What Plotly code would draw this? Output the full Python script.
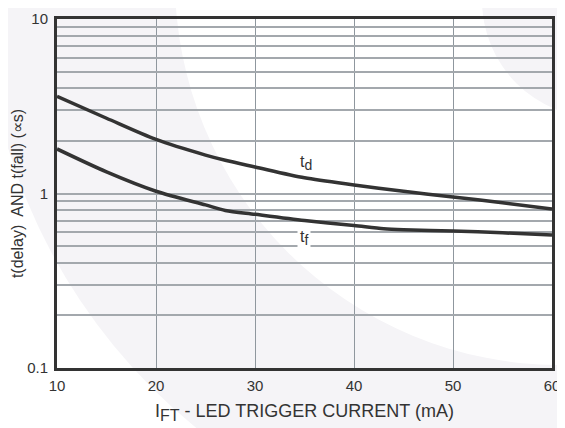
import math
import plotly.graph_objects as go

current_ma = [10, 15, 20, 25, 27, 30, 35, 40, 45, 50, 55, 60]
t_delay = [3.6, 2.7, 2.04, 1.66, 1.55, 1.42, 1.23, 1.12, 1.03, 0.955, 0.885, 0.815]
current_f = [10, 15, 20, 25, 27, 30, 35, 40, 43, 45, 50, 55, 60]
t_fall = [1.80, 1.33, 1.03, 0.86, 0.80, 0.76, 0.70, 0.655, 0.628, 0.62, 0.61, 0.595, 0.578]

x_ticks = [10, 20, 30, 40, 50, 60]
y_grid = [0.1, 0.2, 0.3, 0.4, 0.5, 0.6, 0.7, 0.8, 0.9,
          1, 2, 3, 4, 5, 6, 7, 8, 9, 10]
y_labels = {0.1: "0.1", 1: "1", 10: "10"}

# page body has an 8px margin: the figure starts at (8, 8) in the window
OFF = 8
W, H = 565 - OFF, 428 - OFF
L, T = 57 - OFF, 19 - OFF
PX1, PY1 = 552 - OFF, 368 - OFF
R, B = W - PX1, H - PY1
PW, PH = PX1 - L, PY1 - T

def circle(cx, cy, r, color):
    cx, cy = cx - OFF, cy - OFF
    return dict(type="circle", xref="paper", yref="paper", layer="below",
                x0=(cx - r - L) / PW, x1=(cx + r - L) / PW,
                y0=(PY1 - (cy + r)) / PH, y1=(PY1 - (cy - r)) / PH,
                fillcolor=color, line=dict(width=0))

GRAY = "#f5f4f7"
shapes = [circle(560, -20, 577, GRAY), circle(560, -20, 385, "white"),
          circle(600, 0, 118, GRAY)]

fig = go.Figure()
line = dict(color="#333333", width=3.5, shape="spline", smoothing=0.8)
fig.add_trace(go.Scatter(x=current_ma, y=t_delay, mode="lines", line=line, hoverinfo="skip"))
fig.add_trace(go.Scatter(x=current_f, y=t_fall, mode="lines", line=line, hoverinfo="skip"))

font = "Liberation Sans, Arial, sans-serif"
fig.add_annotation(x=35.2, y=math.log10(1.5), xref="x", yref="y",
                   text="t<sub><span style='font-size:14px'>d</span></sub>",
                   showarrow=False, font=dict(size=16, color="#333333", family=font))
fig.add_annotation(x=34.9, y=math.log10(0.555), xref="x", yref="y",
                   text="t<sub><span style='font-size:14px'>f</span></sub>",
                   showarrow=False, bgcolor="white", borderpad=2,
                   font=dict(size=16, color="#333333", family=font))

fig.update_layout(
    width=W, height=H, margin=dict(l=L, r=R, t=T, b=B, autoexpand=False),
    paper_bgcolor="white", plot_bgcolor="rgba(0,0,0,0)",
    showlegend=False, shapes=shapes,
    font=dict(family=font, color="#333333", size=15),
)
fig.update_xaxes(range=[10, 60], tickvals=x_ticks, showgrid=True, gridcolor="#8f979e",
                 gridwidth=1, zeroline=False, showline=True, linecolor="#333333",
                 linewidth=3, mirror=True, ticks="", automargin=False,
                 ticklabelstandoff=2,
                 title=dict(text="I<sub><span style='font-size:16px'>FT</span></sub> - LED TRIGGER CURRENT (mA)",
                            font=dict(size=18), standoff=12))
fig.update_yaxes(type="log", range=[-1, 1], tickvals=y_grid,
                 ticktext=[y_labels.get(v, "") for v in y_grid],
                 showgrid=True, gridcolor="#a3a8ad", gridwidth=1.5, zeroline=False,
                 showline=True, linecolor="#333333", linewidth=3, mirror=True, ticks="",
                 automargin=False, ticklabelstandoff=3,
                 title=dict(text="t(delay)  AND t(fall) (∝s)", font=dict(size=16), standoff=0))

fig.write_html("out.html")
